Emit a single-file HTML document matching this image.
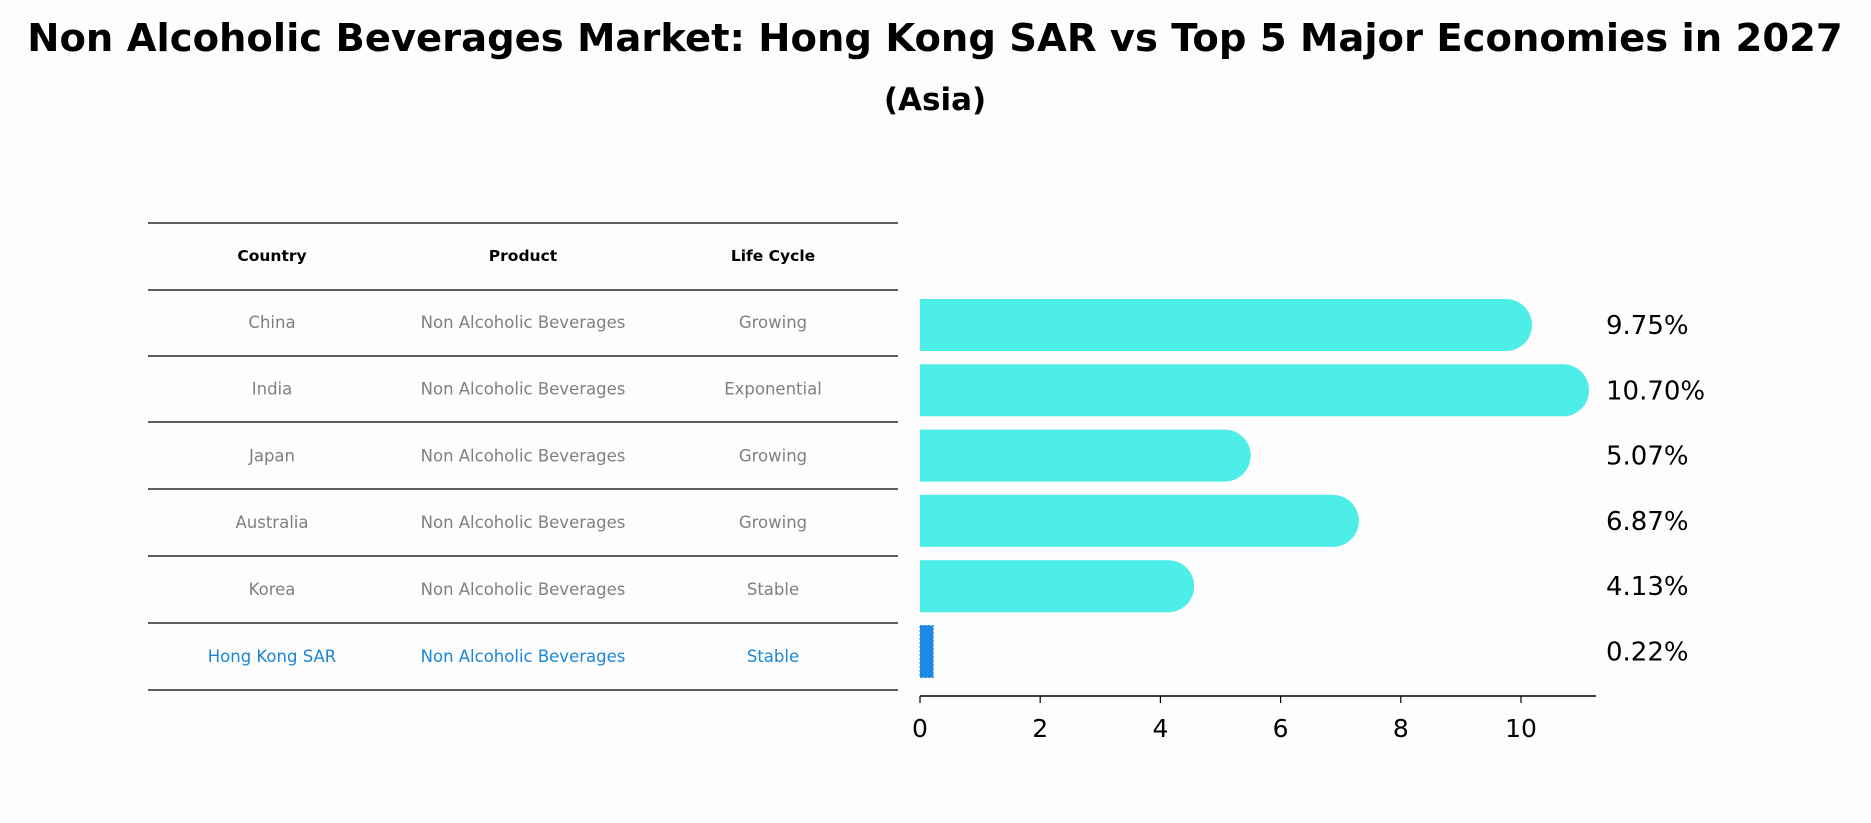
<!DOCTYPE html>
<html><head><meta charset="utf-8"><style>
body{margin:0;background:#fdfdfd;}
svg{display:block;font-family:"DejaVu Sans","Liberation Sans",sans-serif;}
</style></head><body>
<svg id="c" width="1871" height="823" viewBox="0 0 1871 823">
<rect width="1871" height="823" fill="#fdfdfd"/>
<text x="935" y="51" text-anchor="middle" font-size="38.5" font-weight="bold" fill="#000">Non Alcoholic Beverages Market: Hong Kong SAR vs Top 5 Major Economies in 2027</text>
<text x="935" y="110" text-anchor="middle" font-size="31" font-weight="bold" fill="#000">(Asia)</text>
<g id="table"></g>
<g id="bars"></g>
</svg>
<script>
const countries=["China","India","Japan","Australia","Korea","Hong Kong SAR"];
const products=["Non Alcoholic Beverages","Non Alcoholic Beverages","Non Alcoholic Beverages","Non Alcoholic Beverages","Non Alcoholic Beverages","Non Alcoholic Beverages"];
const lifeCycles=["Growing","Exponential","Growing","Growing","Stable","Stable"];
const growth=[9.75,10.70,5.07,6.87,4.13,0.22];
const xTicks=[0,2,4,6,8,10];
const NS="http://www.w3.org/2000/svg";
function mk(tag,attrs,parent,txt){const e=document.createElementNS(NS,tag);for(const k in attrs)e.setAttribute(k,attrs[k]);if(txt!==undefined)e.textContent=txt;parent.appendChild(e);return e;}
const tbl=document.getElementById('table');
const lineY=[223,290,356,422,489,556,623,690];
const colX=[272,523,773];
function rowY(i){return 256+i*66.8;}
lineY.forEach((y,i)=>{const l=mk('line',{x1:148,x2:898,y1:y,y2:y,stroke:'#000','stroke-width':1.3},tbl);

});
["Country","Product","Life Cycle"].forEach((h,j)=>{const t=mk('text',{x:colX[j],y:rowY(0)+5,'text-anchor':'middle','font-size':15.5,'font-weight':'bold',fill:'#000'},tbl,h);

});
countries.forEach((c,i)=>{const col=i===countries.length-1?'#1a86d8':'#808080';
[c,products[i],lifeCycles[i]].forEach((v,j)=>{const t=mk('text',{x:colX[j],y:rowY(i+1)+5,'text-anchor':'middle','font-size':16.5,fill:col},tbl,v);

});});
const bg=document.getElementById('bars');
const x0=920,pxPer=60.1;
function xs(v){return x0+v*pxPer;}
function ys(i){return 325+i*65.3;}
const bh=52;
growth.forEach((v,i)=>{
 const y=ys(i);
 if(i===growth.length-1){
  const r=mk('rect',{x:xs(0),y:y-bh/2,width:xs(v)-xs(0),height:bh,fill:'#1e88e5',stroke:'#1e88e5','stroke-dasharray':'2 2'},bg);
  
  
 } else {
  const p=mk('path',{d:`M${xs(0)},${y-bh/2} H${xs(v)} A${bh/2},${bh/2} 0 0 1 ${xs(v)},${y+bh/2} H${xs(0)} Z`,fill:'#4deee8'},bg);
  
  
 }
 const t=mk('text',{x:1606,y:y+9,'font-size':26,fill:'#000'},bg,v.toFixed(2)+'%');
 
 
});
const ax=mk('line',{x1:xs(0),x2:1596,y1:696,y2:696,stroke:'#000','stroke-width':1.5},bg);


xTicks.forEach(v=>{const tk=mk('line',{x1:xs(v),x2:xs(v),y1:696,y2:703,stroke:'#000','stroke-width':1.2},bg);


const t=mk('text',{x:xs(v),y:737,'text-anchor':'middle','font-size':25,fill:'#000'},bg,String(v));

});
</script>
</body></html>
